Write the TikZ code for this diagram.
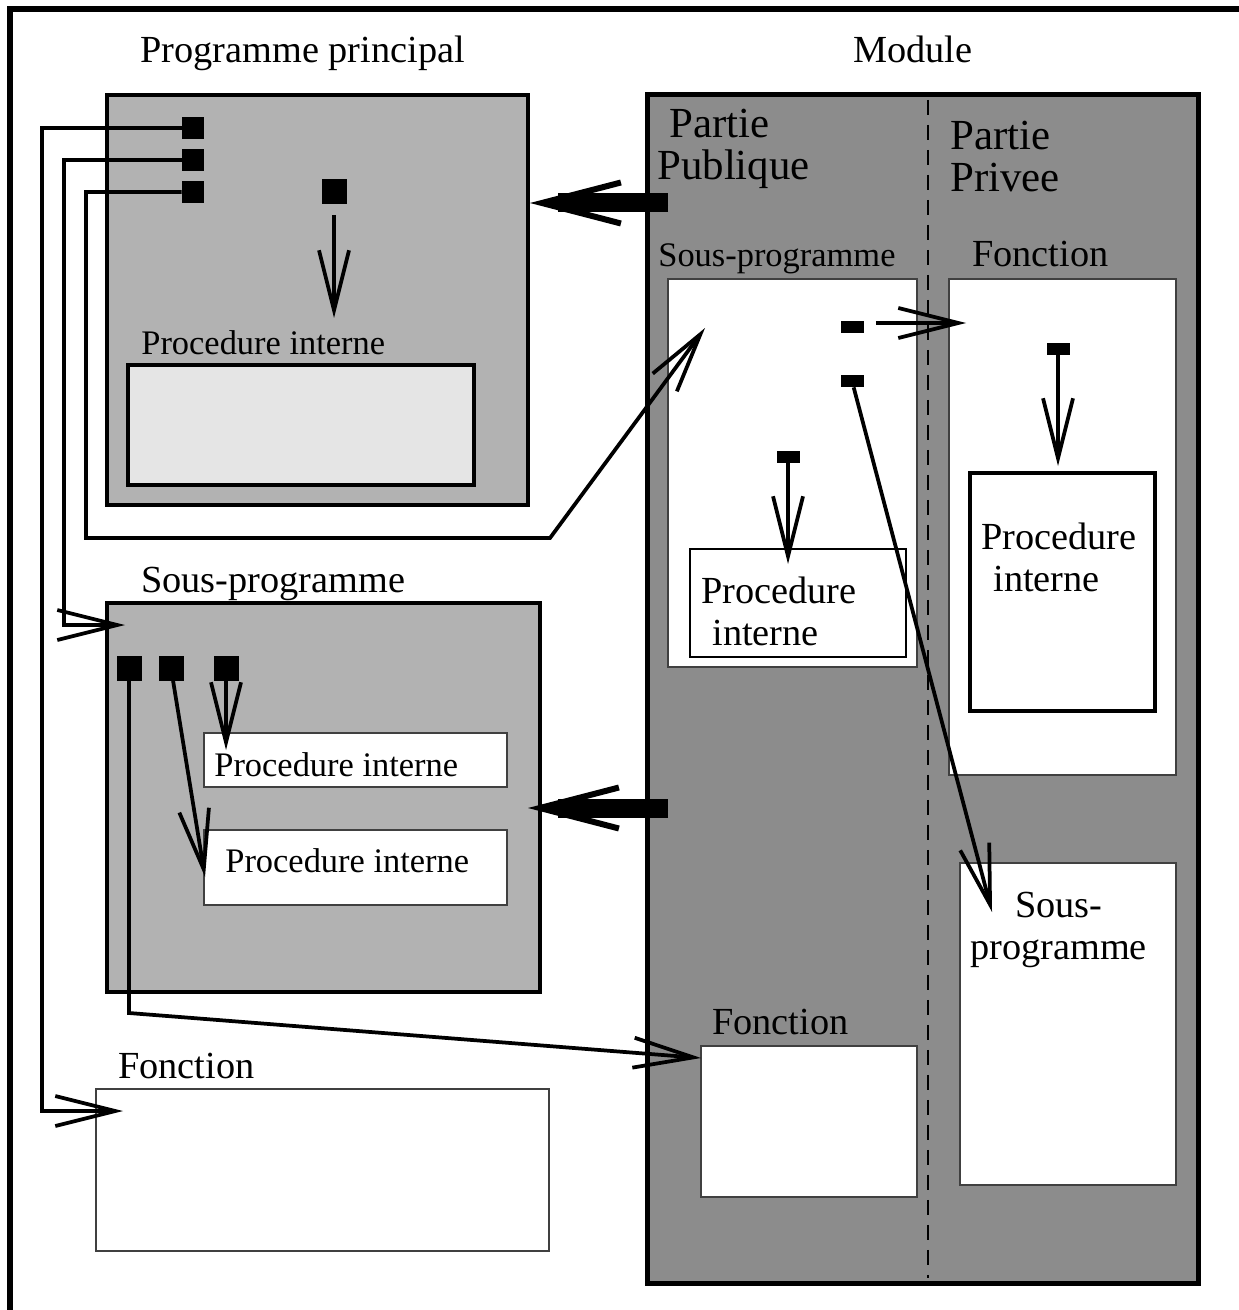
\documentclass[tikz,border=0pt]{standalone}
\usepackage{fontspec}
\setmainfont{Liberation Serif}
\usetikzlibrary{arrows.meta}

\definecolor{grisclair}{gray}{0.70}
\definecolor{grispale}{gray}{0.90}
\definecolor{grisfonce}{gray}{0.55}

\tikzset{
  cadre/.style={draw=black, line width=0.08cm},
  mince/.style={draw=black!75, line width=0.03cm},
  lien/.style={line width=0.075cm, -{Straight Barb[length=1.2cm, width=0.6cm]}},
  pointe/.style={line width=0.12cm, -{Straight Barb[length=1.58cm, width=0.82cm]}},
  tige/.style={line width=0.38cm},
  carre/.style={fill=black, inner sep=0pt, minimum width=0.44cm, minimum height=0.44cm},
  bloc/.style={fill=black, inner sep=0pt, minimum width=0.5cm, minimum height=0.5cm},
  tiret/.style={fill=black, inner sep=0pt, minimum width=0.46cm, minimum height=0.24cm},
  grand/.style={font=\fontsize{24.4}{24.4}\selectfont, inner sep=0pt, anchor=base west, align=left},
  moyen/.style={font=\fontsize{21.8}{23.8}\selectfont, inner sep=0pt, anchor=base west, align=left},
  petit/.style={font=\fontsize{19.6}{22}\selectfont, inner sep=0pt, anchor=base west},
}

\begin{document}
\begin{tikzpicture}[x=0.02cm, y=-0.02cm]
\useasboundingbox (0,0) rectangle (1238,1310);
\draw[line width=0.12cm] (10,1330) -- (10,9) -- (1260,9);

% programme principal, sous-programme, fonction
\draw[cadre, fill=grisclair] (107,95) rectangle (528,505);
\draw[cadre, fill=grispale] (128,365) rectangle (474,485);
\draw[cadre, fill=grisclair] (107,603) rectangle (540,992);
\draw[mince, fill=white] (204,733) rectangle (507,787);
\draw[mince, fill=white] (204,830) rectangle (507,905);
\draw[mince, fill=white] (96,1089) rectangle (549,1251);

% module
\draw[line width=0.1cm, fill=grisfonce] (647,95) rectangle (1198,1283);
\draw[line width=0.04cm, dash pattern=on 0.3cm off 0.2cm] (928,100) -- (928,1278);
\draw[mince, fill=white] (668,279) rectangle (917,667);
\draw[line width=0.04cm, fill=white] (690,549) rectangle (906,657);
\draw[mince, fill=white] (949,279) rectangle (1176,775);
\draw[cadre, fill=white] (970,473) rectangle (1155,711);
\draw[mince, fill=white] (960,863) rectangle (1176,1185);
\draw[mince, fill=white] (701,1046) rectangle (917,1197);

% textes
\node[moyen] (tprog) at (140,63) {Programme principal};
\node[moyen] (tmod) at (853,63) {Module};
\node[grand] (tpub) at (657,180) {\hspace*{0.24cm}Partie\\Publique};
\node[grand] (tpriv) at (950,192) {Partie\\Privee};
\node[petit] (tpi) at (141,355) {Procedure interne};
\node[moyen] (tsp) at (141,592) {Sous-programme};
\node[petit] (tpia) at (214,776) {Procedure interne};
\node[petit] (tpib) at (225,872) {Procedure interne};
\node[moyen] (tfct) at (118,1078) {Fonction};
\node[petit] (tsppub) at (658,267) {Sous-programme};
\node[moyen] (tpipub) at (701,645) {Procedure\\\hspace*{0.22cm}interne};
\node[moyen] (tfctpriv) at (972,267) {Fonction};
\node[moyen] (tpipriv) at (981,591) {Procedure\\\hspace*{0.24cm}interne};
\node[moyen] (tfctpub) at (712,1034) {Fonction};
\node[moyen, align=center] (tsppriv) at (970,959) {Sous-\\programme};

% appels
\node[carre] (m1) at (193,128) {};
\node[carre] (m2) at (193,160) {};
\node[carre] (m3) at (193,192) {};
\node[bloc] (m4) at (334,192) {};
\node[bloc] (s1) at (129,668) {};
\node[bloc] (s2) at (171,668) {};
\node[bloc] (s3) at (226,668) {};
\node[tiret] (d1) at (852,327) {};
\node[tiret] (d2) at (852,381) {};
\node[tiret] (d3) at (788,457) {};
\node[tiret] (d4) at (1058,349) {};

\coordinate (k1) at (42,1111);
\coordinate (k2) at (64,625);
\coordinate (k3) at (86,538);
\coordinate (k4) at (550,538);
\coordinate (k5) at (129,1013);
\coordinate (tfct) at (123,1111);
\coordinate (tsp) at (125,625);
\coordinate (tsppub) at (705,328);
\coordinate (tpi) at (334,318);
\coordinate (tpia) at (226,750);
\coordinate (tpib) at (205,877);
\coordinate (tfctpub) at (701,1058);
\coordinate (tfctpriv) at (966,323);
\coordinate (tsppriv) at (992,912);
\coordinate (tpipub) at (788,564);
\coordinate (tpipriv) at (1058,466);
\coordinate (ua) at (668,203);
\coordinate (va) at (558,203);
\coordinate (wa) at (530,203);
\coordinate (ub) at (668,808);
\coordinate (vb) at (558,808);
\coordinate (wb) at (528,808);

\draw[lien] (m1.west) -| (k1) -- (tfct);
\draw[lien] (m2.west) -| (k2) -- (tsp);
\draw[lien] (m3.west) -| (k3) -- (k4) -- (tsppub);
\draw[lien, shorten <=0.2cm] (m4) -- (tpi);
\draw[lien] (s3) -- (tpia);
\draw[lien] (s2) -- (tpib);
\draw[lien] (s1.south) -- (k5) -- (tfctpub);
\draw[lien, shorten <=0.24cm] (d1.east |- tfctpriv) -- (tfctpriv);
\draw[lien] (d2) -- (tsppriv);
\draw[lien] (d3) -- (tpipub);
\draw[lien] (d4) -- (tpipriv);

% export du module
\draw[pointe] (ua) -- (wa);
\draw[tige] (ua) -- (va);
\draw[pointe] (ub) -- (wb);
\draw[tige] (ub) -- (vb);
\end{tikzpicture}
\end{document}
